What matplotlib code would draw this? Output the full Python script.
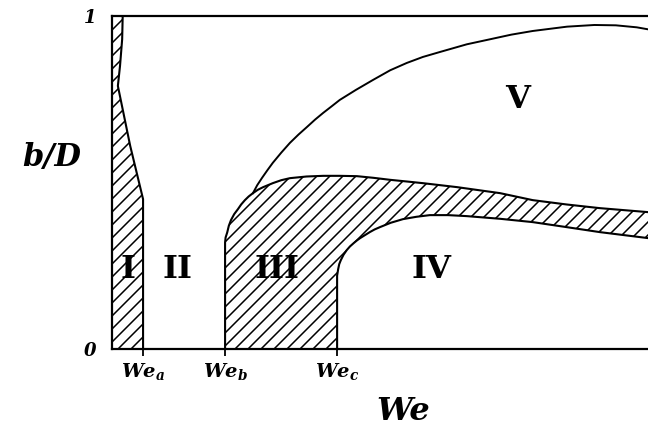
import matplotlib.pyplot as plt
import numpy as np
from matplotlib.patches import Polygon
from matplotlib.lines import Line2D
from matplotlib.transforms import IdentityTransform

plt.rcParams['mathtext.fontset'] = 'custom'
plt.rcParams['mathtext.it'] = 'DejaVu Serif:italic:bold'
plt.rcParams['mathtext.rm'] = 'DejaVu Serif:bold'

# 临界韦伯数
we_a, we_b, we_c = 0.58, 2.11, 4.20
crit_we = [we_a, we_b, we_c]
crit_labels = [r'$We_a$', r'$We_b$', r'$We_c$']

# 区域I右边界
I_we = [0.20, 0.19, 0.17, 0.15, 0.11, 0.34, 0.58, 0.58]
I_bd = [1.00, 0.93, 0.89, 0.85, 0.79, 0.61, 0.45, 0.00]

# 区域III/斜线带上边界
up_we = [2.11, 2.11, 2.12, 2.15, 2.18, 2.22, 2.28, 2.35, 2.41, 2.48, 2.55,
         2.63, 2.72, 2.82, 2.91, 3.00, 3.16, 3.32, 3.63, 3.94, 4.25, 4.57,
         4.88, 5.19, 5.50, 5.80, 6.12, 6.44, 6.84, 7.24, 7.85, 8.48, 9.10,
         10.0]
up_bd = [0.00, 0.32, 0.335, 0.35, 0.37, 0.387, 0.405, 0.42, 0.434, 0.447,
         0.458, 0.468, 0.478, 0.486, 0.492, 0.498, 0.507, 0.513, 0.518,
         0.520, 0.520, 0.519, 0.514, 0.508, 0.503, 0.498, 0.492, 0.486,
         0.477, 0.468, 0.447, 0.434, 0.423, 0.411]

# 区域IV边界
lo_we = [4.20, 4.20, 4.21, 4.22, 4.24, 4.27, 4.32, 4.38, 4.44, 4.51, 4.57,
         4.63, 4.72, 4.81, 4.90, 5.00, 5.20, 5.43, 5.68, 5.93, 6.27, 6.62,
         7.24, 7.85, 8.48, 9.10, 10.0]
lo_bd = [0.00, 0.22, 0.23, 0.24, 0.255, 0.267, 0.283, 0.297, 0.308, 0.318,
         0.326, 0.333, 0.342, 0.351, 0.359, 0.366, 0.379, 0.390, 0.397,
         0.402, 0.402, 0.399, 0.391, 0.381, 0.366, 0.351, 0.333]

# 区域V边界
V_we = [2.63, 2.71, 2.80, 2.90, 3.00, 3.16, 3.32, 3.48, 3.64, 3.79, 3.94,
        4.10, 4.25, 4.55, 4.87, 5.19, 5.50, 5.80, 6.12, 6.62, 7.05, 7.45,
        7.85, 8.49, 9.00, 9.40, 9.79, 10.0]
V_bd = [0.468, 0.492, 0.514, 0.537, 0.559, 0.590, 0.619, 0.644, 0.667,
        0.689, 0.709, 0.729, 0.748, 0.778, 0.808, 0.837, 0.859, 0.877,
        0.892, 0.915, 0.930, 0.944, 0.955, 0.968, 0.973, 0.972, 0.966, 0.96]

# 区域名称及位置
reg_names = ['I', 'II', 'III', 'IV', 'V']
reg_we = [0.30, 1.23, 3.08, 5.97, 7.56]
reg_bd = [0.24, 0.24, 0.24, 0.24, 0.75]

fig = plt.figure(figsize=(6.48, 4.30), dpi=100)
ax = fig.add_axes([0.1728, 0.1884, 0.8272, 0.7744])
ax.set_xlim(0, 10)
ax.set_ylim(0, 1)
ax.autoscale(False)

#斜线填充
def hatch(patch, step=13):
    ax.add_patch(patch)
    for c in np.arange(-700, 700, step):
        ln = Line2D([0, 700], [c, c + 700], transform=IdentityTransform(),
                    color='k', lw=1.1)
        ax.add_line(ln)
        ln.set_clip_path(patch)

#区域I
polyI = list(zip([0] + I_we, [1] + I_bd)) + [(0, 0)]
hatch(Polygon(polyI, closed=True, fc='none', ec='none'))
ax.plot(I_we, I_bd, color='k', lw=1.5, solid_joinstyle='round')

#区域III及斜线带
polyIII = list(zip(up_we, up_bd)) + list(zip(lo_we[::-1], lo_bd[::-1]))
hatch(Polygon(polyIII, closed=True, fc='none', ec='none'))
ax.plot(up_we, up_bd, color='k', lw=1.5, solid_joinstyle='round')
ax.plot(lo_we, lo_bd, color='k', lw=1.5, solid_joinstyle='round')

#区域V
ax.plot(V_we, V_bd, color='k', lw=1.4, solid_joinstyle='round')

for name, x, y in zip(reg_names, reg_we, reg_bd):
    ax.text(x, y, name, fontsize=23, family='DejaVu Serif', weight='bold',
            ha='center', va='center')

#坐标轴
ax.spines['right'].set_visible(False)
for s in ['top', 'left', 'bottom']:
    ax.spines[s].set_linewidth(1.6)
ax.set_xticks(crit_we)
ax.set_xticklabels(crit_labels, fontsize=14)
ax.tick_params(axis='x', length=5, width=1.3, pad=4)
ax.set_yticks([0, 1])
ax.set_yticklabels(['0', '1'], fontsize=13, family='DejaVu Serif',
                   style='italic', weight='bold')
ax.tick_params(axis='y', length=0, pad=11)

fig.text(0.080, 0.633, 'b/D', fontsize=22, family='DejaVu Serif',
         style='italic', weight='bold', ha='center', va='center')
fig.text(0.622, 0.042, 'We', fontsize=23, family='DejaVu Serif',
         style='italic', weight='bold', ha='center', va='center')

plt.savefig('out.png', dpi=100)
